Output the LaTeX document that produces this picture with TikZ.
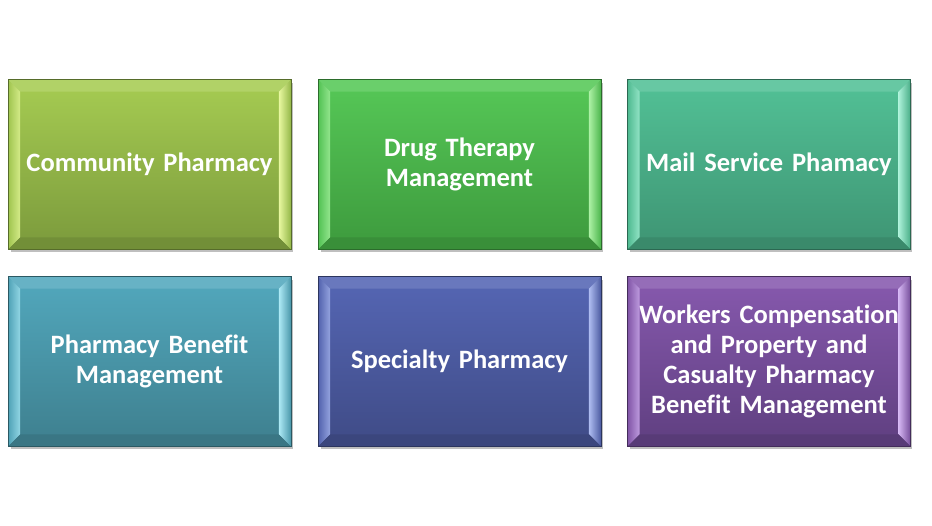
\documentclass[tikz,border=0pt]{standalone}
\usepackage{fontspec}
\setmainfont[Ligatures=NoCommon]{Carlito}
\usetikzlibrary{calc,shadows}
\definecolor{aT}{HTML}{A6CC52}\definecolor{aB}{HTML}{7B9A3C}\definecolor{aL}{HTML}{E8F8A0}
\definecolor{bT}{HTML}{56C857}\definecolor{bB}{HTML}{3D9A3D}\definecolor{bL}{HTML}{AEF2A6}
\definecolor{cT}{HTML}{52C196}\definecolor{cB}{HTML}{3E9473}\definecolor{cL}{HTML}{AEF2DA}
\definecolor{dT}{HTML}{52A8BD}\definecolor{dB}{HTML}{3E7F8E}\definecolor{dL}{HTML}{AEEAF6}
\definecolor{eT}{HTML}{5566B4}\definecolor{eB}{HTML}{3F4B86}\definecolor{eL}{HTML}{B0BEF2}
\definecolor{fT}{HTML}{8759AE}\definecolor{fB}{HTML}{5F3F80}\definecolor{fL}{HTML}{D6B8F4}
\tikzset{
  card/.style={rectangle, minimum width=282pt, minimum height=169pt, inner sep=0pt,
    top color=#1T, bottom color=#1B, draw=#1B!70!black, line width=0.6pt,
    drop shadow={shadow xshift=2pt, shadow yshift=-3pt, opacity=0.25, fill=black},
    text=white, align=center, text width=278pt,
    font=\bfseries\fontsize{26.5}{30}\selectfont},
}
\newcommand\bevels[2]{% node name, colour prefix
  \fill[#2T!88!white] (#1.north west) -- (#1.north east) -- ($(#1.north east)+(-12pt,-12pt)$) -- ($(#1.north west)+(12pt,-12pt)$) -- cycle;
  \shade[left color=#2T!85!#2B, right color=#2L!70!#2T] (#1.north west) -- ($(#1.north west)+(12pt,-12pt)$) -- ($(#1.south west)+(12pt,12pt)$) -- (#1.south west) -- cycle;
  \shade[left color=#2L, right color=#2T!60!#2B] (#1.north east) -- (#1.south east) -- ($(#1.south east)+(-12pt,12pt)$) -- ($(#1.north east)+(-12pt,-12pt)$) -- cycle;
  \fill[#2B!93!black] (#1.south west) -- ($(#1.south west)+(12pt,12pt)$) -- ($(#1.south east)+(-12pt,12pt)$) -- (#1.south east) -- cycle;
  \draw[#2B!70!black, line width=0.6pt] (#1.north west) rectangle (#1.south east);
}
\begin{document}
\begin{tikzpicture}[x=1pt,y=1pt]
  \useasboundingbox[fill=white] (0,0) rectangle (932,-525);
  \node[card=a] (n1) at (149.5,-164.5) {Community Pharmacy};
  \node[card=b] (n2) at (459.5,-164.5) {Drug Therapy\\Management};
  \node[card=c] (n3) at (769,-164.5) {Mail Service Phamacy};
  \node[card=d] (n4) at (149.5,-361.5) {Pharmacy Benefit\\Management};
  \node[card=e] (n5) at (459.5,-361.5) {Specialty Pharmacy};
  \node[card=f] (n6) at (769,-361.5) {Workers Compensation\\and Property and\\Casualty Pharmacy\\Benefit Management};
  \bevels{n1}{a}\bevels{n2}{b}\bevels{n3}{c}
  \bevels{n4}{d}\bevels{n5}{e}\bevels{n6}{f}
\end{tikzpicture}
\end{document}
